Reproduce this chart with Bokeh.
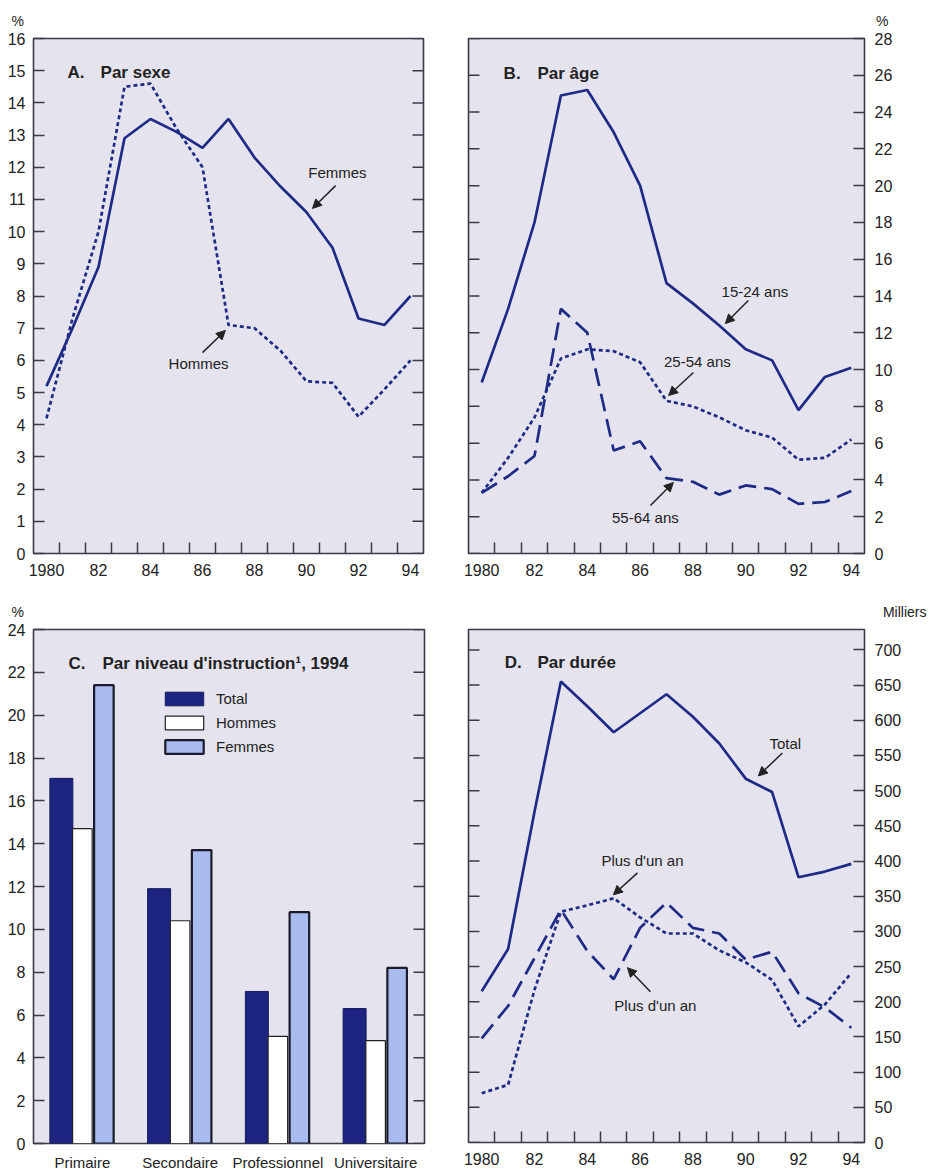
import math
from bokeh.plotting import figure
from bokeh.models import (FixedTicker, Range1d, FactorRange, Label, Arrow,
                          NormalHead, Legend, LegendItem, ColumnDataSource)
from bokeh.layouts import column, row
from bokeh.transform import dodge
from bokeh.embed import file_html
from bokeh.resources import INLINE

# ---------------- data ----------------
years = list(range(1980, 1995))
year_ticks = [1980, 1982, 1984, 1986, 1988, 1990, 1992, 1994]
year_tick_labels = ["1980", "82", "84", "86", "88", "90", "92", "94"]

# A. Par sexe (%)
ticks_a = list(range(0, 17))
femmes_a = [5.2, 7.0, 8.9, 12.9, 13.5, 13.1, 12.6, 13.5, 12.3, 11.4, 10.6, 9.5, 7.3, 7.1, 8.0]
hommes_a = [4.2, 7.3, 10.0, 14.5, 14.6, 13.2, 12.0, 7.1, 7.0, 6.3, 5.35, 5.3, 4.25, 5.1, 6.0]

# B. Par âge (%)
ticks_b = list(range(0, 29, 2))
age_15_24 = [9.3, 13.3, 18.0, 24.9, 25.2, 22.9, 20.0, 14.7, 13.6, 12.4, 11.1, 10.5, 7.8, 9.6, 10.1]
age_25_54 = [3.3, 5.2, 7.4, 10.6, 11.1, 11.0, 10.4, 8.3, 8.0, 7.4, 6.7, 6.3, 5.1, 5.2, 6.2]
age_55_64 = [3.3, 4.2, 5.3, 13.3, 12.0, 5.6, 6.1, 4.1, 3.9, 3.2, 3.7, 3.5, 2.7, 2.8, 3.4]

# C. Par niveau d'instruction, 1994 (%)
ticks_c = list(range(0, 25, 2))
niveaux = ["Primaire", "Secondaire", "Professionnel", "Universitaire"]
total_c = [17.05, 11.9, 7.1, 6.3]
hommes_c = [14.7, 10.4, 5.0, 4.8]
femmes_c = [21.4, 13.7, 10.8, 8.2]

# D. Par durée (milliers)
ticks_d = list(range(0, 701, 50))
total_d = [215, 275, 470, 655, 620, 583, 610, 637, 605, 567, 517, 498, 377, 385, 396]
dotted_d = [70, 82, 217, 328, 337, 347, 320, 297, 297, 273, 256, 231, 165, 196, 241]
dashed_d = [148, 194, 262, 331, 272, 232, 305, 341, 305, 297, 260, 271, 212, 192, 163]

# ---------------- styles ----------------
FONT = "Liberation Sans"
BG = "#e5e4ee"
LINE = "#1f2a86"
TXT = "#222222"
FRAME = "#3a3a48"
DOT = "4 3"
DASH = "18 8"
TICK = 11
LW = 2.7


def style_axis(ax, standoff):
    ax.axis_line_color = None
    ax.major_tick_in = TICK
    ax.major_tick_out = 0
    ax.minor_tick_in = 0
    ax.minor_tick_out = 0
    ax.major_tick_line_color = FRAME
    ax.major_tick_line_width = 1.5
    ax.major_label_text_font = FONT
    ax.major_label_text_font_size = "16px"
    ax.major_label_text_color = TXT
    ax.major_label_standoff = standoff


def year_axis(ax):
    ax.ticker = FixedTicker(ticks=year_ticks, minor_ticks=[y + 0.5 for y in years[:-1]])
    ax.major_label_overrides = {t: l for t, l in zip(year_ticks, year_tick_labels)}
    ax.axis_line_color = None
    ax.major_tick_in = 0
    ax.major_tick_out = 0
    ax.minor_tick_in = TICK
    ax.minor_tick_out = 0
    ax.minor_tick_line_color = FRAME
    ax.minor_tick_line_width = 1.5
    ax.major_label_text_font = FONT
    ax.major_label_text_font_size = "16px"
    ax.major_label_text_color = TXT
    ax.major_label_standoff = 10


def side_ticks(p, x_edge, ticks, pointing_left):
    # unlabeled inner ticks on the opposite side of the frame
    p.ray(x=[x_edge] * len(ticks), y=ticks, length=TICK, length_units="screen",
          angle=math.pi if pointing_left else 0.0, line_color=FRAME, line_width=1.5)


def base_fig(x_range, y_range, fw, fh, bl, br, bt, bb, y_axis_loc):
    p = figure(frame_width=fw, frame_height=fh, x_range=x_range, y_range=y_range,
               output_backend="svg", toolbar_location=None, y_axis_location=y_axis_loc,
               min_border_left=bl, min_border_right=br, min_border_top=bt, min_border_bottom=bb)
    p.background_fill_color = BG
    p.border_fill_color = "white"
    p.outline_line_color = FRAME
    p.outline_line_width = 1.6
    p.xgrid.visible = False
    p.ygrid.visible = False
    return p


def set_title(p, text, align, offset):
    # unit caption above the value axis
    p.title.text = text
    p.title.text_font = FONT
    p.title.text_font_size = "14px"
    p.title.text_font_style = "normal"
    p.title.text_color = TXT
    p.title.align = align
    p.title.offset = offset
    p.title.vertical_align = "top"
    p.title.standoff = 16


def panel_title(p, letter, text, x1, x2, y):
    for x, t in ((x1, letter), (x2, text)):
        p.add_layout(Label(x=x, y=y, text=t, text_font=FONT, text_font_size="17px",
                           text_font_style="bold", text_color=TXT, text_baseline="middle"))


def note(p, text, tx, ty, x0, y0, x1, y1):
    p.add_layout(Label(x=tx, y=ty, text=text, text_font=FONT, text_font_size="15px",
                       text_color=TXT, text_align="center", text_baseline="middle"))
    p.add_layout(Arrow(x_start=x0, y_start=y0, x_end=x1, y_end=y1, line_color=TXT, line_width=1.5,
                       end=NormalHead(size=9, fill_color=TXT, line_color=TXT)))


# ---------------- A ----------------
pA = base_fig(Range1d(1979.5, 1994.5), Range1d(0, 16), 390, 515, 33, 35, 38, 37, "left")
set_title(pA, "%", "left", -22)
year_axis(pA.xaxis[0])
pA.yaxis[0].ticker = FixedTicker(ticks=ticks_a)
style_axis(pA.yaxis[0], 8)
side_ticks(pA, 1994.5, ticks_a, True)
pA.line(years, femmes_a, line_color=LINE, line_width=LW)
pA.line(years, hommes_a, line_color=LINE, line_width=LW, line_dash=DOT)
panel_title(pA, "A.", "Par sexe", 1980.81, 1982.08, 14.94)
note(pA, "Femmes", 1991.19, 11.84, 1991.12, 11.43, 1990.23, 10.72)
note(pA, "Hommes", 1985.85, 5.90, 1986.0, 6.24, 1986.88, 6.93)

# ---------------- B ----------------
pB = base_fig(Range1d(1979.5, 1994.5), Range1d(0, 28), 396, 515, 10, 64, 38, 37, "right")
set_title(pB, "%", "right", -24)
year_axis(pB.xaxis[0])
pB.yaxis[0].ticker = FixedTicker(ticks=ticks_b)
style_axis(pB.yaxis[0], 10)
side_ticks(pB, 1979.5, ticks_b, False)
pB.line(years, age_15_24, line_color=LINE, line_width=LW)
pB.line(years, age_25_54, line_color=LINE, line_width=LW, line_dash=DOT)
pB.line(years, age_55_64, line_color=LINE, line_width=LW, line_dash=DASH)
panel_title(pB, "B.", "Par âge", 1980.83, 1982.11, 26.1)
note(pB, "15-24 ans", 1990.35, 14.25, 1990.1, 13.76, 1989.23, 12.5)
note(pB, "25-54 ans", 1988.17, 10.44, 1988.02, 9.84, 1987.08, 8.59)
note(pB, "55-64 ans", 1986.2, 1.96, 1986.39, 2.61, 1987.26, 3.86)

# ---------------- C ----------------
srcC = ColumnDataSource(dict(niveau=niveaux, total=total_c, hommes=hommes_c, femmes=femmes_c))
pC = base_fig(FactorRange(*niveaux, range_padding=0), Range1d(0, 24), 391, 514, 33, 34, 38, 28, "left")
set_title(pC, "%", "left", -22)
xa = pC.xaxis[0]
xa.axis_line_color = None
xa.major_tick_in = 0
xa.major_tick_out = 0
xa.major_label_text_font = FONT
xa.major_label_text_font_size = "15px"
xa.major_label_text_color = TXT
xa.major_label_standoff = 10
pC.yaxis[0].ticker = FixedTicker(ticks=ticks_c)
style_axis(pC.yaxis[0], 8)
side_ticks(pC, len(niveaux), ticks_c, True)
r_tot = pC.vbar(x=dodge("niveau", -0.215, range=pC.x_range), top="total", width=0.235, source=srcC,
                fill_color="#1d2380", line_color="#161a5c", line_width=1)
r_hom = pC.vbar(x=dodge("niveau", 0.0, range=pC.x_range), top="hommes", width=0.2, source=srcC,
                fill_color="white", line_color="#222222", line_width=1.2)
r_fem = pC.vbar(x=dodge("niveau", 0.22, range=pC.x_range), top="femmes", width=0.2, source=srcC,
                fill_color="#a9bbee", line_color="#1a1a2a", line_width=2.2)
legC = Legend(items=[LegendItem(label="Total", renderers=[r_tot]),
                     LegendItem(label="Hommes", renderers=[r_hom]),
                     LegendItem(label="Femmes", renderers=[r_fem])],
              location=(127, 388), glyph_width=48, glyph_height=17, label_height=17,
              label_standoff=8, spacing=7, padding=0, margin=0,
              background_fill_alpha=0, border_line_color=None,
              label_text_font=FONT, label_text_font_size="15px", label_text_color=TXT)
pC.add_layout(legC)
panel_title(pC, "C.", "Par niveau d'instruction¹, 1994", 0.358, 0.706, 22.4)

# ---------------- D ----------------
pD = base_fig(Range1d(1979.5, 1994.5), Range1d(0, 729), 396, 513, 10, 64, 39, 28, "right")
set_title(pD, "Milliers", "right", -62)
year_axis(pD.xaxis[0])
pD.yaxis[0].ticker = FixedTicker(ticks=ticks_d)
style_axis(pD.yaxis[0], 10)
side_ticks(pD, 1979.5, ticks_d, False)
pD.line(years, total_d, line_color=LINE, line_width=LW)
pD.line(years, dotted_d, line_color=LINE, line_width=LW, line_dash=DOT)
pD.line(years, dashed_d, line_color=LINE, line_width=LW, line_dash=DASH)
panel_title(pD, "D.", "Par durée", 1980.87, 1982.11, 682.6)
note(pD, "Total", 1991.5, 567.7, 1991.39, 553.5, 1990.48, 520.9)
note(pD, "Plus d'un an", 1986.09, 400.2, 1985.9, 383.2, 1984.99, 352.0)
note(pD, "Plus d'un an", 1986.58, 194.4, 1986.39, 214.3, 1985.52, 248.4)

layout = column(row(pA, pB), row(pC, pD))
open("out.html", "w").write(file_html(layout, INLINE))
